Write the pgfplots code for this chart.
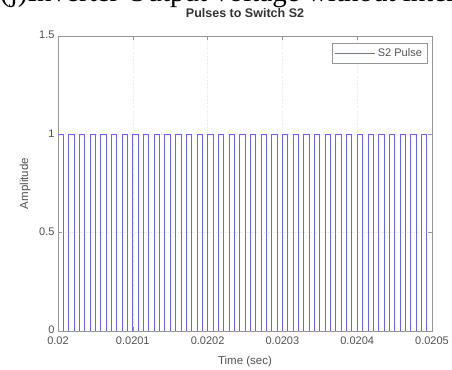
\documentclass[border=0pt]{standalone}
\usepackage{pgfplots}
\pgfplotsset{compat=1.18}
\usepackage{fontspec}
\setmainfont{Liberation Sans}
\newfontfamily\serifcap{Liberation Serif}
\definecolor{pulse}{RGB}{105,105,232}
\definecolor{axgray}{RGB}{150,150,150}
\definecolor{txtgray}{RGB}{80,80,80}
\begin{document}
\begin{tikzpicture}
\useasboundingbox (0,0) rectangle (452bp,370bp);
\node[anchor=base west, inner sep=0pt, font=\serifcap\fontsize{29bp}{31bp}\selectfont] at (0bp,368bp) {(j)Inverter Output voltage without interleaving};
\begin{axis}[
  at={(58bp,39bp)}, anchor=south west,
  scale only axis, width=374bp, height=295bp,
  xmin=0, xmax=500, ymin=0, ymax=1.5,
  xtick={0,100,200,300,400,500},
  xticklabels={0.02,0.0201,0.0202,0.0203,0.0204,0.0205},
  ytick={0,0.5,1,1.5},
  yticklabels={0,0.5,1,1.5},
  /pgf/number format/assume math mode=true,
  tick align=inside, major tick length=4bp,
  tick style={axgray, line width=0.5bp},
  axis line style={axgray, line width=0.7bp},
  grid=major, major grid style={gray!20, dotted, line width=0.5bp},
  ticklabel style={font=\fontsize{11bp}{12bp}\selectfont, text=txtgray},
  xticklabel style={yshift=-2.5bp},
  yticklabel style={yshift=1bp},
  every axis title shift/.style={yshift=0pt},
  title={\bfseries Pulses to Switch S2},
  title style={at={(axis description cs:0.5,1.058)}, anchor=center, font=\fontsize{12.5bp}{14bp}\selectfont, text=black!80},
  xlabel={Time (sec)},
  xlabel style={at={(axis description cs:0.5,-0.102)}, anchor=center, font=\fontsize{11.5bp}{13bp}\selectfont, text=txtgray},
  ylabel={Amplitude},
  ylabel style={at={(axis description cs:-0.088,0.5)}, anchor=center, font=\fontsize{11.5bp}{13bp}\selectfont, text=txtgray},
  legend style={at={(axis description cs:0.987,0.976)}, anchor=north east, draw=axgray, line width=0.5bp, font=\fontsize{11bp}{12bp}\selectfont, inner sep=3bp, row sep=0bp},
  legend cell align=left,
  legend image code/.code={\pgfsetstrokecolor{pulse}\pgfsetlinewidth{1.1bp}\pgfpathmoveto{\pgfpoint{0bp}{0bp}}\pgfpathlineto{\pgfpoint{40bp}{0bp}}\pgfusepath{stroke}},
]
\addplot[const plot, color=pulse, line width=0.75bp,
  legend image code/.code={\pgfsetstrokecolor{pulse}\pgfsetlinewidth{1.1bp}\pgfpathmoveto{\pgfpoint{0bp}{0bp}}\pgfpathlineto{\pgfpoint{40bp}{0bp}}\pgfusepath{stroke}}] coordinates {
(0,1) (7.143,0)
(14.286,1) (21.429,0)
(28.571,1) (35.714,0)
(42.857,1) (50.000,0)
(57.143,1) (64.286,0)
(71.429,1) (78.571,0)
(85.714,1) (92.857,0)
(100.000,1) (107.143,0)
(114.286,1) (121.429,0)
(128.571,1) (135.714,0)
(142.857,1) (150.000,0)
(157.143,1) (164.286,0)
(171.429,1) (178.571,0)
(185.714,1) (192.857,0)
(200.000,1) (207.143,0)
(214.286,1) (221.429,0)
(228.571,1) (235.714,0)
(242.857,1) (250.000,0)
(257.143,1) (264.286,0)
(271.429,1) (278.571,0)
(285.714,1) (292.857,0)
(300.000,1) (307.143,0)
(314.286,1) (321.429,0)
(328.571,1) (335.714,0)
(342.857,1) (350.000,0)
(357.143,1) (364.286,0)
(371.429,1) (378.571,0)
(385.714,1) (392.857,0)
(400.000,1) (407.143,0)
(414.286,1) (421.429,0)
(428.571,1) (435.714,0)
(442.857,1) (450.000,0)
(457.143,1) (464.286,0)
(471.429,1) (478.571,0)
(485.714,1) (492.857,0)
(500,1)
};
\addlegendentry{\textcolor{txtgray}{S2 Pulse}}
\end{axis}
\end{tikzpicture}
\end{document}
